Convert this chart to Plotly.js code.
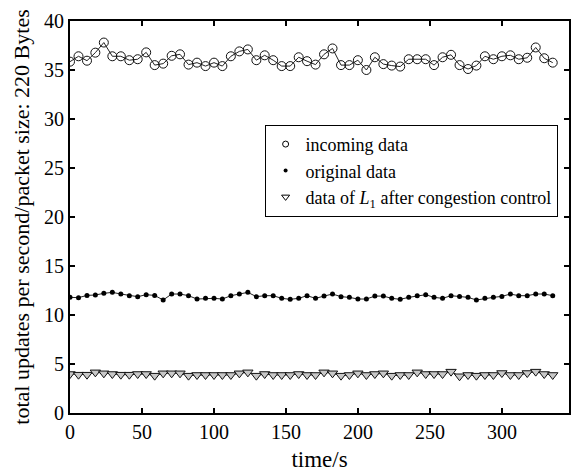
<!DOCTYPE html>
<html>
<head>
<meta charset="utf-8">
<script src="https://cdn.plot.ly/plotly-3.0.1.min.js"></script>
<style>html,body{margin:0;padding:0;background:#fff;}#chart{width:572px;height:472px;}</style>
</head>
<body>
<div id="chart"></div>
<script>
const timeS = [0, 5.9, 11.8, 17.6, 23.5, 29.4, 35.3, 41.2, 47.0, 52.9, 58.8, 64.7, 70.6, 76.4, 82.3, 88.2, 94.1, 100.0, 105.8, 111.7, 117.6, 123.5, 129.4, 135.2, 141.1, 147.0, 152.9, 158.8, 164.6, 170.5, 176.4, 182.3, 188.2, 194.0, 199.9, 205.8, 211.7, 217.6, 223.4, 229.3, 235.2, 241.1, 247.0, 252.8, 258.7, 264.6, 270.5, 276.4, 282.2, 288.1, 294.0, 299.9, 305.8, 311.6, 317.5, 323.4, 329.3, 335.2];
const incomingData = [35.85, 36.4, 35.95, 36.77, 37.8, 36.4, 36.4, 36.0, 36.1, 36.8, 35.5, 35.65, 36.45, 36.6, 35.55, 35.75, 35.4, 35.75, 35.4, 36.4, 36.9, 37.1, 36.0, 36.5, 36.0, 35.4, 35.4, 36.3, 35.9, 35.55,
  36.6, 37.2, 35.5, 35.5, 36.0, 35.0, 36.3, 35.6, 35.45, 35.35, 36.1, 36.1, 36.1, 35.5, 36.3, 36.55, 35.5, 35.1, 35.45, 36.4, 36.1, 36.4, 36.5, 36.1, 36.25, 37.3, 36.2, 35.75];
const originalData = [11.8, 11.77, 12.0, 12.04, 12.21, 12.31, 12.14, 11.97, 11.87, 12.07, 12.0, 11.53, 12.14, 12.14, 11.97, 11.63, 11.7, 11.7, 11.63, 11.97, 12.14, 12.31, 11.87, 11.97, 11.97, 11.7, 11.6, 11.7, 11.97, 11.7,
  11.93, 12.14, 11.87, 11.8, 11.63, 11.63, 11.93, 11.93, 11.7, 11.6, 11.8, 11.97, 12.07, 11.8, 11.7, 11.97, 11.9, 11.8, 11.53, 11.7, 11.8, 11.9, 12.14, 11.97, 11.97, 12.14, 12.14, 11.97];
const l1Data = [3.98, 3.91, 3.91, 4.15, 4.05, 3.98, 3.91, 3.91, 3.98, 3.98, 3.81, 4.05, 4.05, 4.05, 3.81, 3.88, 3.88, 3.88, 3.88, 3.88, 4.05, 4.15, 3.81, 3.98, 3.88, 3.88, 3.88, 3.98, 3.88, 3.88,
  4.15, 4.05, 3.81, 3.88, 4.05, 3.88, 3.98, 4.05, 3.81, 3.88, 3.88, 4.15, 3.98, 3.98, 3.98, 4.22, 3.75, 3.88, 3.81, 3.88, 3.88, 4.08, 3.88, 3.88, 4.08, 4.22, 3.98, 3.88];
const seriesNames = ['incoming data', 'original data', 'data of <i>L</i><sub>1</sub> after congestion control'];
const xTicks = [0, 50, 100, 150, 200, 250, 300];
const yTicks = [0, 5, 10, 15, 20, 25, 30, 35, 40];

const FONT = 'Liberation Serif';
const lineStyle = {color: '#222', width: 1};

const traces = [
  {x: timeS, y: incomingData, mode: 'lines+markers', showlegend: false,
   line: lineStyle, marker: {symbol: 'circle-open', size: 9, color: '#111', line: {width: 1, color: '#111'}}},
  {x: timeS, y: originalData, mode: 'lines+markers', showlegend: false,
   line: lineStyle, marker: {symbol: 'circle', size: 5, color: '#000'}},
  {x: timeS, y: l1Data, mode: 'lines+markers', showlegend: false,
   line: lineStyle, marker: {symbol: 'triangle-down', size: 9, color: '#c8c8c8', line: {width: 1, color: '#111'}}},
  {x: [null], y: [null], mode: 'markers', name: seriesNames[0],
   marker: {symbol: 'circle-open', size: 6, color: '#000', line: {width: 1, color: '#000'}}},
  {x: [null], y: [null], mode: 'markers', name: seriesNames[1],
   marker: {symbol: 'circle', size: 4, color: '#000'}},
  {x: [null], y: [null], mode: 'markers', name: seriesNames[2],
   marker: {symbol: 'triangle-down-open', size: 7, color: '#000', line: {width: 1, color: '#000'}}}
];

const axisCommon = {
  showline: true, linecolor: '#000', linewidth: 2, mirror: 'ticks',
  ticks: 'inside', ticklen: 5, tickwidth: 1.5, tickcolor: '#000',
  showgrid: false, zeroline: false,
  tickfont: {family: FONT, size: 20, color: '#000'}
};

const layout = {
  width: 572, height: 472,
  margin: {l: 70, r: 3, t: 21, b: 59},
  paper_bgcolor: '#fff', plot_bgcolor: '#fff',
  font: {family: FONT, color: '#000'},
  xaxis: Object.assign({}, axisCommon, {
    range: [0, 346.5], tickvals: xTicks, ticktext: xTicks.map(String),
    title: {text: 'time/s', font: {family: FONT, size: 23, color: '#000'}, standoff: 9}
  }),
  yaxis: Object.assign({}, axisCommon, {
    range: [0, 40], tickvals: yTicks, ticktext: yTicks.map(String),
    title: {text: 'total updates per second/packet size: 220 Bytes', font: {family: FONT, size: 22, color: '#000'}, standoff: 8}
  }),
  legend: {
    x: 0.39, y: 0.735, xanchor: 'left', yanchor: 'top',
    bgcolor: '#fff', bordercolor: '#000', borderwidth: 1,
    font: {family: FONT, size: 18, color: '#000'},
    tracegroupgap: 0
  }
};

Plotly.newPlot('chart', traces, layout, {staticPlot: true, displayModeBar: false});
</script>
</body>
</html>
